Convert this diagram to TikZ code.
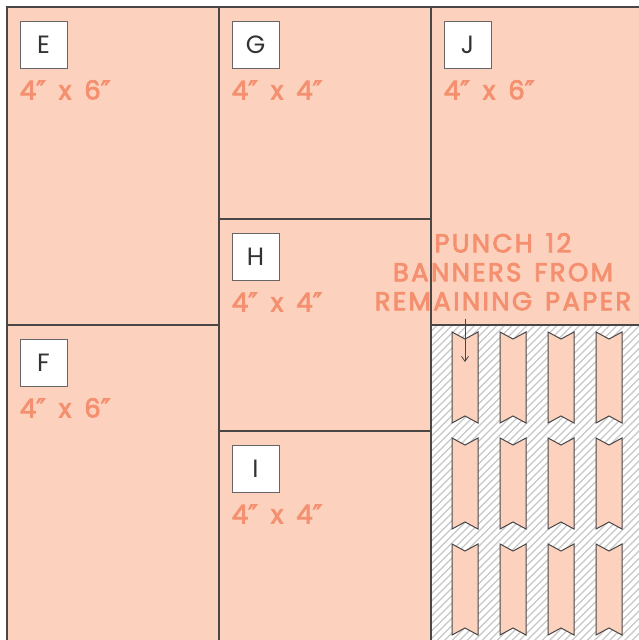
\documentclass[tikz,border=0pt]{standalone}
\usepackage{fontspec}
\setmainfont{Poppins}
\newfontfamily\labelfont[FakeBold=3,LetterSpace=9,WordSpace=1.4]{Poppins}
\newfontfamily\primefont[FakeBold=3]{DejaVu Sans}
\newcommand\inch{{\primefont ″}}
\usetikzlibrary{arrows.meta,positioning}

\definecolor{paper}{HTML}{FCD1BD}
\definecolor{ink}{HTML}{F4906F}
\definecolor{edge}{HTML}{4A4646}
\definecolor{hatch}{HTML}{C8C8C8}

\tikzset{
  cut/.style={draw=edge, fill=paper, line width=1.3pt},
  tag/.style={draw=gray!80!black, fill=white, line width=0.8pt, minimum size=47pt,
    inner sep=0pt, text=black!80, font=\fontsize{25}{25}\selectfont},
  size/.style={anchor=base west, inner sep=0pt, text=ink, font=\labelfont\fontsize{26}{26}\selectfont},
  banner/.style={draw=edge, fill=paper, line width=1pt, line join=miter},
}

\begin{document}
\begin{tikzpicture}[x=1pt,y=-1pt]
  \useasboundingbox (0,0) rectangle (639,640);
  \clip (0,0) rectangle (639,640);

  % cut pieces
  \filldraw[cut] (7,7) rectangle (219,325);
  \filldraw[cut] (7,325) rectangle (219,660);
  \filldraw[cut] (219,7) rectangle (431,219);
  \filldraw[cut] (219,219) rectangle (431,431);
  \filldraw[cut] (219,431) rectangle (431,660);
  \filldraw[cut] (431,7) rectangle (660,325);

  % left-over paper
  \fill[white] (431,325) rectangle (660,660);
  \begin{scope}
    \clip (431,325) rectangle (660,660);
    \foreach \a in {95,102.5,...,650}
      \draw[hatch, line width=1.1pt] (\a,660) -- ++(340,-340);
  \end{scope}
  \draw[edge, line width=1.3pt] (431,325) rectangle (660,660);

  % banners
  \foreach \col in {0,...,3}
    \foreach \row in {0,1,2}
      \filldraw[banner] (452+48*\col,332+106*\row) -- ++(13,7) -- ++(13,-7)
        -- ++(0,91) -- ++(-13,-7) -- ++(-13,7) -- cycle;

  % labels
  \foreach \n/\x/\y/\s in {E/43.5/44.5/6, F/43.5/362.5/6, G/255.5/44.5/4,
      H/255.5/256.5/4, I/255.5/468.5/4, J/467.5/44.5/6} {
    \node[tag] (tag\n) at (\x,\y) {\n};
    \node[size] (size\n) at ([yshift=-31pt]tag\n.south west) {4\inch{} x \s\inch};
  }

  \node[anchor=north, inner sep=0pt, align=center, text=ink,
    font=\labelfont\fontsize{26}{29}\selectfont] (note) at (503,233)
    {PUNCH 12\\BANNERS FROM\\REMAINING PAPER};
  \coordinate (tip) at (465,362);
  \draw[edge, line width=0.8pt, -{Straight Barb[length=5pt,width=7pt]}, shorten <=8pt]
    (note.south -| tip) -- (tip);
\end{tikzpicture}
\end{document}
